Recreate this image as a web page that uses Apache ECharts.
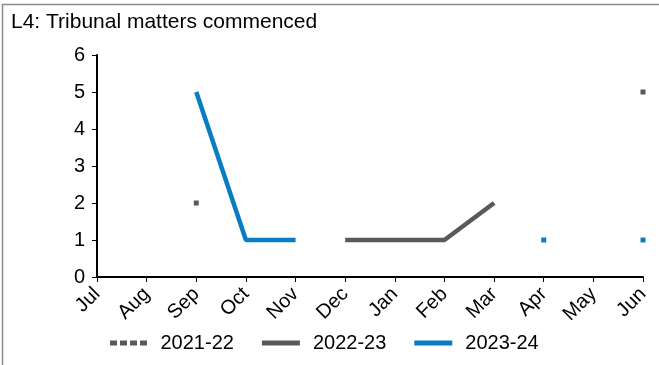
<!DOCTYPE html>
<html><head><meta charset="utf-8">
<script src="https://cdn.jsdelivr.net/npm/echarts@6/dist/echarts.min.js"></script>
<style>html,body{margin:0;padding:0;background:#fff}#c{width:659px;height:365px}</style>
</head><body><div id="c"></div>
<script>
const months = ['Jul','Aug','Sep','Oct','Nov','Dec','Jan','Feb','Mar','Apr','May','Jun'];
const s2122 = [null,null,2,null,null,null,null,null,null,null,null,5];
const s2223 = [null,null,null,null,null,1,1,1,2,null,null,null];
const s2324 = [null,null,5,1,1,null,null,null,null,1,null,1];
const yTicks = [0,1,2,3,4,5,6];
const names = ['2021-22','2022-23','2023-24'];
const colors = ['#58595b','#58595b','#0a7cc1'];

function isolated(arr, i){
  return arr[i] != null && (i===0 || arr[i-1]==null) && (i===arr.length-1 || arr[i+1]==null);
}
function mk(name, arr, color, type){
  return {
    name, type:'line', data: arr, connectNulls:false,
    showSymbol:true, symbol:'rect',
    symbolSize:(v,p)=> isolated(arr,p.dataIndex) ? 5 : 0,
    itemStyle:{color},
    lineStyle:{color, width:4.5, type},
    emphasis:{disabled:true}, animation:false
  };
}
const dottedIcon = 'path://M0,0h7v5h-7z M10,0h7v5h-7z M20,0h7v5h-7z M30,0h7v5h-7z';
const chart = echarts.init(document.getElementById('c'));
chart.setOption({
  animation:false,
  title:{text:'L4: Tribunal matters commenced', left:6, top:7,
    textStyle:{fontFamily:'Liberation Sans', fontSize:21, fontWeight:'normal', color:'#000'}},
  graphic:[{type:'rect', shape:{x:2.5,y:4.5,width:700,height:400},
    style:{fill:'none', stroke:'#8a8a8a', lineWidth:1.5}, silent:true}],
  legend:{bottom:7, left:105, itemWidth:38, itemHeight:5, itemGap:28,
    data:[{name:names[0], icon:dottedIcon},{name:names[1], icon:'rect'},{name:names[2], icon:'rect'}],
    textStyle:{fontFamily:'Liberation Sans', fontSize:20, color:'#000', padding:[0,0,0,8]}},
  grid:{left:97, right:16, top:55, bottom:88, containLabel:false},
  xAxis:{type:'category', data:months, boundaryGap:false,
    axisLine:{lineStyle:{color:'#000', width:2}},
    axisTick:{show:true, alignWithLabel:true, length:5, lineStyle:{color:'#000'}},
    axisLabel:{rotate:45, fontFamily:'Liberation Sans', fontSize:20, color:'#000', margin:14, interval:0},
    splitLine:{show:false}},
  yAxis:{type:'value', min:0, max:6, interval:1,
    axisLine:{show:true, lineStyle:{color:'#000', width:2}},
    axisTick:{show:true, length:5, lineStyle:{color:'#000'}},
    axisLabel:{fontFamily:'Liberation Sans', fontSize:20, color:'#000', margin:12,
      formatter:v=> yTicks.includes(v) ? String(v) : ''},
    splitLine:{show:false}},
  series:[mk(names[0], s2122, colors[0], [4,4]), mk(names[1], s2223, colors[1], 'solid'), mk(names[2], s2324, colors[2], 'solid')]
});
</script></body></html>
